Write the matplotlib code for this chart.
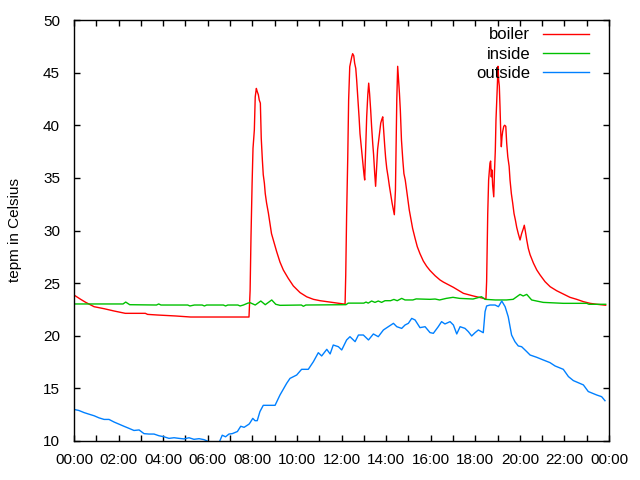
import matplotlib
matplotlib.use("Agg")
import matplotlib.pyplot as plt
from matplotlib.ticker import MultipleLocator, FuncFormatter

plt.rcParams["font.family"] = ["Liberation Sans", "DejaVu Sans"]

# hours of the day and readings (deg C)
boiler_h = [0, 0.3, 0.52, 0.9, 1.35, 1.8, 2.3, 3.2, 3.3, 3.75, 4.55, 5.23, 7.85,
            7.9, 7.94, 7.99, 8.03, 8.09, 8.13, 8.18, 8.22, 8.27, 8.31, 8.36, 8.40,
            8.45, 8.49, 8.54, 8.58, 8.64, 8.72, 8.79, 8.86, 8.94, 9.09, 9.24, 9.39,
            9.61, 9.84, 10.14, 10.44, 10.74, 11.04, 11.49, 12.16,
            12.19, 12.23, 12.28, 12.32, 12.37, 12.41, 12.46, 12.50, 12.55, 12.59,
            12.64, 12.68, 12.74, 12.79, 12.83, 12.88, 12.92, 12.97, 13.01, 13.04,
            13.09, 13.13, 13.18, 13.22, 13.26, 13.31, 13.35, 13.40, 13.44, 13.49,
            13.53, 13.58, 13.62, 13.67, 13.71, 13.76, 13.80, 13.85, 13.89, 13.94,
            13.98, 14.03, 14.09, 14.15, 14.21, 14.27, 14.33, 14.37, 14.42, 14.45,
            14.48, 14.52, 14.55, 14.60, 14.64, 14.69, 14.75, 14.80, 14.86, 14.92,
            14.98, 15.04, 15.12, 15.19, 15.30, 15.40, 15.52, 15.67, 15.82, 15.97,
            16.20, 16.42, 16.57, 17.02, 17.47, 17.91, 18.36, 18.48,
            18.51, 18.56, 18.60, 18.66, 18.69, 18.72, 18.75, 18.78, 18.83, 18.86,
            18.90, 18.93, 18.96, 18.99, 19.02, 19.05, 19.08, 19.11, 19.14, 19.17,
            19.20, 19.23, 19.28, 19.32, 19.37, 19.41, 19.46, 19.52, 19.56, 19.62,
            19.68, 19.74, 19.80, 19.86, 19.93, 20.01, 20.08, 20.16, 20.20, 20.25,
            20.31, 20.38, 20.46, 20.61, 20.76, 20.91, 21.13, 21.36, 21.65, 21.95,
            22.25, 22.55, 22.85, 23.15, 23.45, 23.85]
boiler = [23.87, 23.46, 23.18, 22.76, 22.57, 22.35, 22.13, 22.13, 22.03, 21.97, 21.88, 21.78, 21.78,
          24.28, 29.4, 34.5, 37.8, 39.55, 42.7, 43.5, 43.2, 42.9, 42.4, 42.1, 38.76,
          36.7, 35.3, 34.5, 33.5, 32.6, 31.66, 30.7, 29.7, 29.1, 28.0, 27.0, 26.25,
          25.46, 24.73, 24.1, 23.7, 23.46, 23.33, 23.2, 23.0,
          25.77, 31.47, 36.9, 42.4, 45.56, 46.0, 46.5, 46.8, 46.6, 45.9,
          45.4, 44.3, 42.4, 40.7, 39.2, 38.1, 37.2, 36.2, 35.3, 34.8,
          37.96, 40.8, 42.9, 44.0, 43.0, 41.4, 39.9, 38.3, 37.2, 35.4,
          34.2, 36.1, 37.7, 38.6, 39.4, 40.2, 40.5, 40.8, 39.55, 38.0,
          36.9, 35.9, 35.1, 34.2, 33.4, 32.6, 31.95, 31.5, 33.85, 38.3,
          42.4, 45.6, 44.6, 43.0, 41.4, 38.6, 36.7, 35.4, 34.8, 33.85,
          32.9, 31.95, 31.0, 30.2, 29.26, 28.46, 27.8, 27.1, 26.6, 26.2,
          25.7, 25.3, 25.1, 24.6, 24.03, 23.78, 23.56, 23.5,
          25.14, 31.6, 34.8, 36.4, 36.6, 35.1, 35.75, 34.3, 33.2, 35.4,
          37.6, 40.5, 42.1, 43.7, 45.6, 44.3, 43.7, 41.8, 39.55, 37.96,
          38.9, 39.4, 39.9, 40.0, 39.9, 38.3, 37.0, 36.1, 34.8, 33.5,
          32.6, 31.6, 31.0, 30.3, 29.7, 29.1, 29.7, 30.2, 30.5, 29.9,
          29.1, 28.3, 27.7, 26.9, 26.25, 25.77, 25.14, 24.66, 24.28, 23.97,
          23.65, 23.46, 23.24, 23.08, 22.99, 22.9]

inside_h = [0, 2.2, 2.32, 2.5, 3.7, 3.8, 3.9, 5.1, 5.2, 5.4, 5.75, 5.85, 5.95, 6.7,
            6.8, 6.9, 7.35, 7.45, 7.6, 7.8, 7.9, 8.13, 8.38, 8.58, 8.87, 9.05, 9.24,
            10.2, 10.29, 10.4, 12.2, 12.3, 13.0, 13.1, 13.2, 13.35, 13.5, 13.65, 13.8,
            13.95, 14.2, 14.35, 14.5, 14.7, 14.85, 15.2, 15.35, 15.97, 16.2, 16.4,
            16.7, 17.0, 17.3, 17.9, 18.28, 18.44, 18.9, 19.4, 19.7, 20.01, 20.15,
            20.31, 20.53, 20.75, 21.05, 21.95, 23.0, 23.1, 23.85]
inside = [23.02, 23.02, 23.2, 22.95, 22.92, 23.02, 22.92, 22.92, 22.83, 22.92, 22.92, 22.83, 22.92, 22.92,
          22.83, 22.92, 22.92, 22.83, 22.92, 23.1, 23.14, 22.92, 23.3, 22.95, 23.4, 22.99, 22.89,
          22.92, 22.8, 22.92, 22.95, 23.1, 23.1, 23.2, 23.1, 23.3, 23.17, 23.3, 23.17,
          23.33, 23.33, 23.45, 23.33, 23.55, 23.4, 23.4, 23.5, 23.46, 23.49, 23.4,
          23.55, 23.65, 23.55, 23.49, 23.71, 23.46, 23.4, 23.4, 23.46, 23.93, 23.78,
          23.93, 23.4, 23.3, 23.17, 23.08, 23.08, 22.99, 22.99]

outside_h = [0, 0.22, 0.45, 0.67, 0.9, 1.12, 1.35, 1.57, 1.8, 2.02, 2.24, 2.47, 2.69,
             2.92, 3.14, 3.36, 3.59, 3.81, 4.04, 4.26, 4.49, 4.71, 4.93, 5.16, 5.38,
             5.61, 5.83, 5.98, 6.1, 6.3, 6.5, 6.6, 6.65, 6.8, 6.95, 7.1, 7.33, 7.48,
             7.63, 7.85, 7.90, 8.02, 8.12, 8.22, 8.34, 8.49, 9.02, 9.24, 9.54, 9.69,
             9.99, 10.21, 10.51, 10.74, 10.96, 11.11, 11.34, 11.49, 11.63, 11.86,
             12.01, 12.23, 12.38, 12.61, 12.76, 12.98, 13.21, 13.43, 13.65, 13.88,
             14.10, 14.33, 14.48, 14.70, 14.85, 15.00, 15.15, 15.30, 15.52, 15.75,
             15.97, 16.12, 16.34, 16.49, 16.64, 16.87, 17.02, 17.17, 17.32, 17.54,
             17.69, 17.84, 17.99, 18.14, 18.36, 18.44, 18.51, 18.66, 18.89, 19.04,
             19.19, 19.34, 19.48, 19.63, 19.78, 19.93, 20.08, 20.31, 20.46, 20.76,
             21.05, 21.35, 21.58, 21.95, 22.18, 22.40, 22.85, 23.07, 23.45, 23.67, 23.82]
outside = [13.0, 12.9, 12.7, 12.55, 12.4, 12.2, 12.05, 12.05, 11.8, 11.6, 11.4, 11.2, 11.0,
           11.05, 10.7, 10.66, 10.66, 10.5, 10.4, 10.25, 10.31, 10.25, 10.2, 10.31, 10.16,
           10.22, 10.13, 10.0, 9.7, 9.6, 9.8, 10.3, 10.55, 10.4, 10.66, 10.7, 10.9, 11.4,
           11.3, 11.6, 11.74, 12.15, 11.93, 11.93, 12.79, 13.39, 13.39, 14.37, 15.48, 15.95,
           16.27, 16.81, 16.81, 17.54, 18.39, 18.08, 18.71, 18.27, 19.12, 18.96,
           18.65, 19.60, 19.91, 19.44, 20.07, 20.07, 19.60, 20.17, 19.91, 20.55,
           20.86, 21.18, 20.86, 20.70, 21.02, 21.18, 21.65, 21.50, 20.77, 20.86,
           20.3, 20.23, 20.86, 21.34, 21.12, 21.34, 21.02, 20.17, 20.86, 20.70,
           20.39, 19.98, 20.29, 20.55, 20.29, 22.29, 22.83, 22.92, 22.92, 22.76,
           23.30, 22.76, 21.80, 20.07, 19.44, 19.03, 18.96, 18.49, 18.17, 17.95,
           17.70, 17.45, 17.13, 16.81, 16.12, 15.74, 15.33, 14.70, 14.37, 14.21, 13.83]

fig = plt.figure(figsize=(6.4, 4.8), dpi=100)
ax = fig.add_axes([74 / 640, 39 / 480, 535 / 640, 421 / 480])

ax.plot(boiler_h, boiler, color="#ff0000", lw=1.0, label="boiler")
ax.plot(inside_h, inside, color="#00c000", lw=1.0, label="inside")
ax.plot(outside_h, outside, color="#0080ff", lw=1.0, label="outside")

ax.set_xlim(0, 24)
ax.set_ylim(10, 50)
ax.xaxis.set_major_locator(MultipleLocator(2))
ax.xaxis.set_minor_locator(MultipleLocator(1))
ax.yaxis.set_major_locator(MultipleLocator(5))
ax.xaxis.set_major_formatter(FuncFormatter(lambda v, p: "%02d:00" % (int(round(v)) % 24)))

ax.tick_params(which="both", direction="in", length=4, width=1, top=True, right=True,
               labelsize=11, colors="black")
ax.tick_params(axis="x", pad=9)
ax.tick_params(axis="y", pad=10)
for s in ax.spines.values():
    s.set_linewidth(1.0)

fig.text(15 / 640, 1 - 230 / 480, "tepm in Celsius", rotation=90, fontsize=11,
         ha="center", va="center")

leg = ax.legend(loc="upper right", bbox_to_anchor=(0.985, 1.01), frameon=False,
                markerfirst=False, fontsize=12, handlelength=2.8, handletextpad=0.75,
                labelspacing=0.25, borderaxespad=0.3)

fig.savefig("out.png", dpi=100)
